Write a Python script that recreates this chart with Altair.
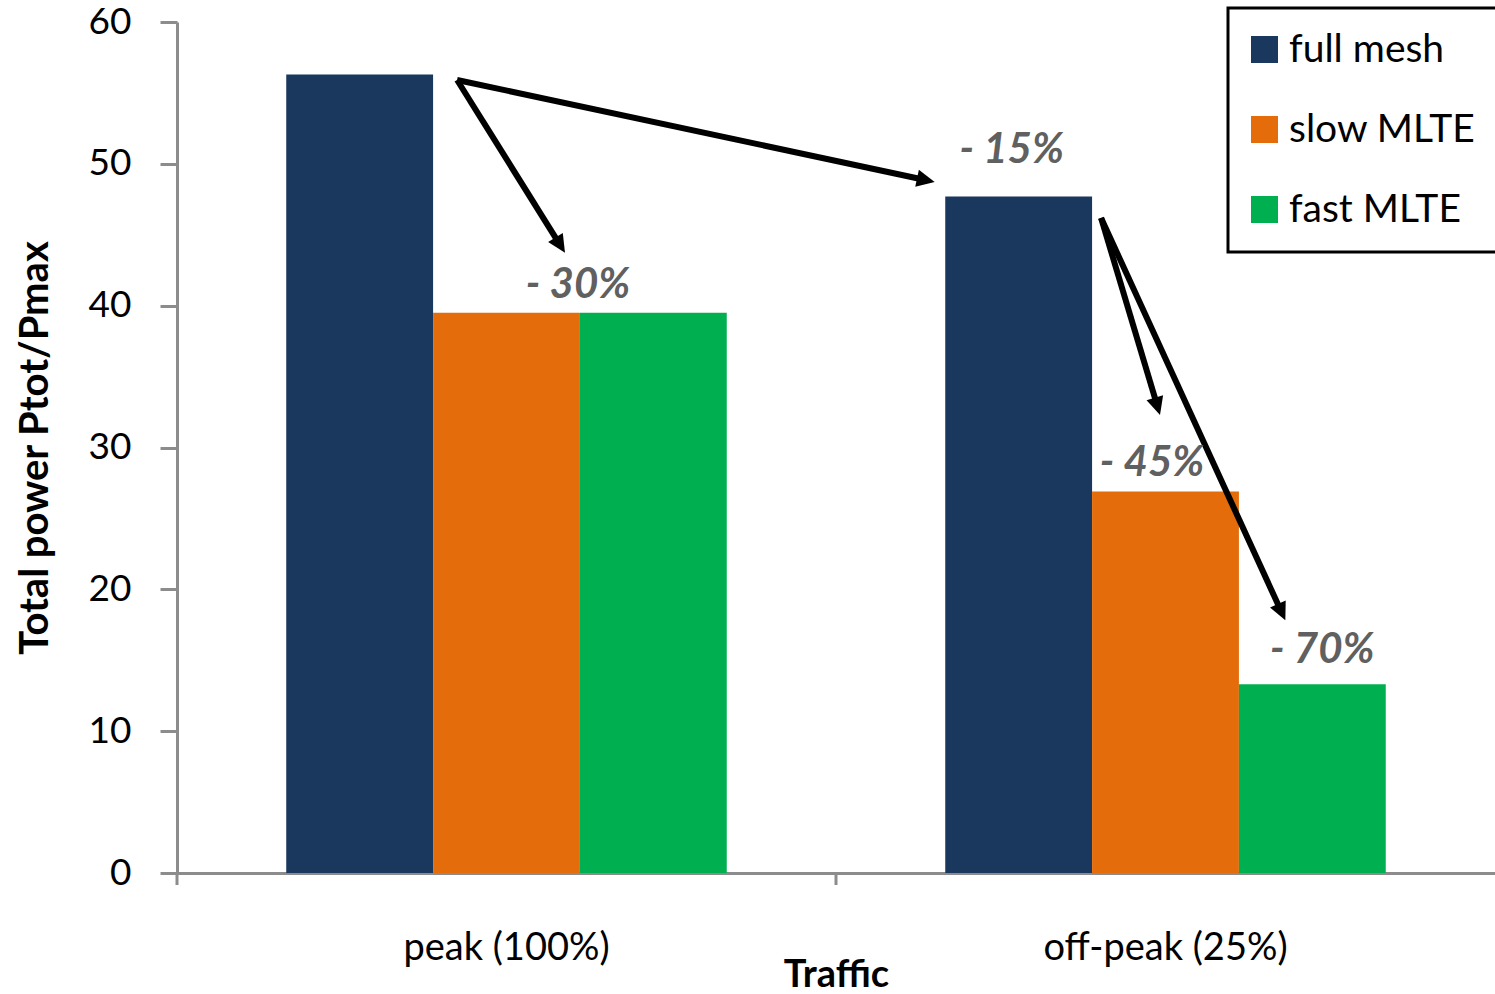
import math
import altair as alt
import pandas as pd

# ---- data -------------------------------------------------------------
categories = ["peak (100%)", "off-peak (25%)"]
series_names = ["full mesh", "slow MLTE", "fast MLTE"]
full_mesh = [56.3, 47.7]
slow_mlte = [39.5, 26.9]
fast_mlte = [39.5, 13.3]
colors = ["#1A375D", "#E46C0A", "#00B050"]

# reduction call-outs and the bar each one sits above
reduction_labels = ["- 30%", "- 15%", "- 45%", "- 70%"]
label_category = ["peak (100%)", "off-peak (25%)", "off-peak (25%)", "off-peak (25%)"]
label_series = ["slow MLTE", "full mesh", "slow MLTE", "fast MLTE"]

# arrows: from the top of one bar to another
arrow_from = [("peak (100%)", "full mesh"), ("peak (100%)", "full mesh"),
              ("off-peak (25%)", "full mesh"), ("off-peak (25%)", "full mesh")]
arrow_to = [("off-peak (25%)", "full mesh"), ("peak (100%)", "slow MLTE"),
            ("off-peak (25%)", "slow MLTE"), ("off-peak (25%)", "fast MLTE")]

# ---- layout / style ---------------------------------------------------
W, H = 1318, 851
Y_MAX = 60
PAD_OUT = 0.744          # outer padding of the bar group inside a category band
FONT = "Lato"
AXIS_GREY = "#8C8C8C"
LABEL_GREY = "#606060"
Y_TITLE = "Total power Ptot/Pmax"

# pixel nudges (dx, dy) for the hand-placed annotation pieces
ARROW_START_NUDGE = [(24, 5.5), (24, 5.5), (9, 21.5), (9, 21.5)]
ARROW_END_NUDGE = [(-84, -14.5), (58.5, -60), (-5.5, -76.5), (-27, -64)]
LABEL_NUDGE = [(71.5, -28), (-7, -46.5), (-13.5, -28.5), (10, -34)]
HEAD_INSET = 12
HEAD_SIZE = 1296

n_cat, n_ser = len(categories), len(series_names)
slot = 1.0 / (n_ser + 2 * PAD_OUT)

bar_rows = []
for ci, cat in enumerate(categories):
    for ser, vals in zip(series_names, [full_mesh, slow_mlte, fast_mlte]):
        bar_rows.append({"traffic": cat, "series": ser, "value": vals[ci]})
bar_df = pd.DataFrame(bar_rows)
value_of = {(r["traffic"], r["series"]): r["value"] for r in bar_rows}


def bar_unit(cat, ser, frac):
    """Position along a bar (frac 0 = left edge, 1 = right edge) in category units."""
    return categories.index(cat) + (PAD_OUT + series_names.index(ser) + frac) * slot


def ux_to_px(u):
    return u * W / n_cat


def px_to_ux(p):
    return p * n_cat / W


def v_to_py(v):
    return H - v / Y_MAX * H


def py_to_v(p):
    return (H - p) * Y_MAX / H


arrow_rows, head_rows = [], []
for src, dst, sn, en in zip(arrow_from, arrow_to, ARROW_START_NUDGE, ARROW_END_NUDGE):
    sx = ux_to_px(bar_unit(*src, 1.0)) + sn[0]
    sy = v_to_py(value_of[src]) + sn[1]
    ex = ux_to_px(bar_unit(*dst, 0.5)) + en[0]
    ey = v_to_py(value_of[dst]) + en[1]
    dx, dy = ex - sx, ey - sy
    length = math.hypot(dx, dy)
    lx, ly = ex - dx / length * HEAD_INSET, ey - dy / length * HEAD_INSET
    arrow_rows.append({"x": px_to_ux(sx), "value": py_to_v(sy),
                       "x2": px_to_ux(lx), "value2": py_to_v(ly)})
    head_rows.append({"x": px_to_ux(ex), "value": py_to_v(ey),
                      "angle": math.degrees(math.atan2(dx, -dy)) % 360})
arrow_df = pd.DataFrame(arrow_rows)
head_df = pd.DataFrame(head_rows)

label_rows = []
for text, cat, ser, nd in zip(reduction_labels, label_category, label_series, LABEL_NUDGE):
    px = ux_to_px(bar_unit(cat, ser, 0.5)) + nd[0]
    py = v_to_py(value_of[(cat, ser)]) + nd[1]
    label_rows.append({"text": text, "x": px_to_ux(px), "value": py_to_v(py)})
label_df = pd.DataFrame(label_rows)

# category boundaries that carry an x tick
tick_df = pd.DataFrame({"b": list(range(n_cat))})

# ---- chart ------------------------------------------------------------
y_scale = alt.Scale(domain=[0, Y_MAX], nice=False, zero=True)
unit_x = alt.Scale(domain=[0, n_cat], nice=False, zero=True)
y_axis = alt.Axis(values=list(range(0, Y_MAX + 1, 10)), grid=False,
                  tickSize=17, tickWidth=3, tickColor=AXIS_GREY,
                  domainColor=AXIS_GREY, domainWidth=3,
                  labelFontSize=37, labelColor="black", labelPadding=29,
                  titleFontSize=40, titleFontWeight="bold",
                  titleColor="black", titlePadding=33)


def y_enc(field="value"):
    return alt.Y(f"{field}:Q", scale=y_scale, title=Y_TITLE, axis=y_axis)


bars = alt.Chart(bar_df).mark_bar().encode(
    x=alt.X("traffic:N", sort=categories, title="Traffic",
            scale=alt.Scale(paddingInner=0, paddingOuter=0),
            axis=alt.Axis(labelAngle=0, ticks=False, labelFontSize=38,
                          labelColor="black", labelPadding=56, labelLimit=0,
                          titleFontSize=38, titleFontWeight="bold",
                          titleColor="black", titlePadding=-11,
                          domainColor=AXIS_GREY, domainWidth=3)),
    xOffset=alt.XOffset("series:N", sort=series_names,
                        scale=alt.Scale(paddingInner=0, paddingOuter=PAD_OUT)),
    y=y_enc(),
    color=alt.Color("series:N", sort=series_names,
                    scale=alt.Scale(domain=series_names, range=colors),
                    legend=alt.Legend(title=None, orient="none",
                                      legendX=1051, legendY=-14,
                                      symbolType="square", symbolSize=729,
                                      symbolStrokeWidth=0, symbolOffset=-5,
                                      labelFontSize=39, labelLimit=0,
                                      labelColor="black", labelOffset=5,
                                      rowPadding=40, padding=22,
                                      strokeColor="black")),
)

x_ticks = alt.Chart(tick_df).mark_rule(color=AXIS_GREY, strokeWidth=3).encode(
    x=alt.X("b:Q", scale=unit_x, axis=None),
    y=alt.value(H),
    y2=alt.value(H + 12),
)

arrows = alt.Chart(arrow_df).mark_rule(color="black", strokeWidth=6).encode(
    x=alt.X("x:Q", scale=unit_x, axis=None),
    x2="x2:Q",
    y=y_enc(),
    y2="value2:Q",
)

heads = alt.Chart(head_df).mark_point(
    shape="M0,0L-0.48,1L0.48,1Z", filled=True, color="black",
    opacity=1, size=HEAD_SIZE, strokeWidth=0,
).encode(
    x=alt.X("x:Q", scale=unit_x, axis=None),
    y=y_enc(),
    angle=alt.Angle("angle:Q", scale=None),
)

labels = alt.Chart(label_df).mark_text(
    font=FONT, fontSize=42, fontWeight="bold", fontStyle="italic",
    color=LABEL_GREY, align="center", baseline="middle",
).encode(
    x=alt.X("x:Q", scale=unit_x, axis=None),
    y=y_enc(),
    text="text:N",
)

chart = alt.layer(bars, x_ticks, arrows, heads, labels).resolve_scale(
    x="independent"
).properties(
    width=W, height=H,
    autosize=alt.AutoSizeParams(type="none"),
    padding={"left": 177, "top": 22, "right": 0, "bottom": 121},
).configure(
    font=FONT,
).configure_view(
    stroke=None,
).configure_legend(
    strokeWidth=3,
)

chart.save("out.html", embed_options={"renderer": "svg", "actions": False})
